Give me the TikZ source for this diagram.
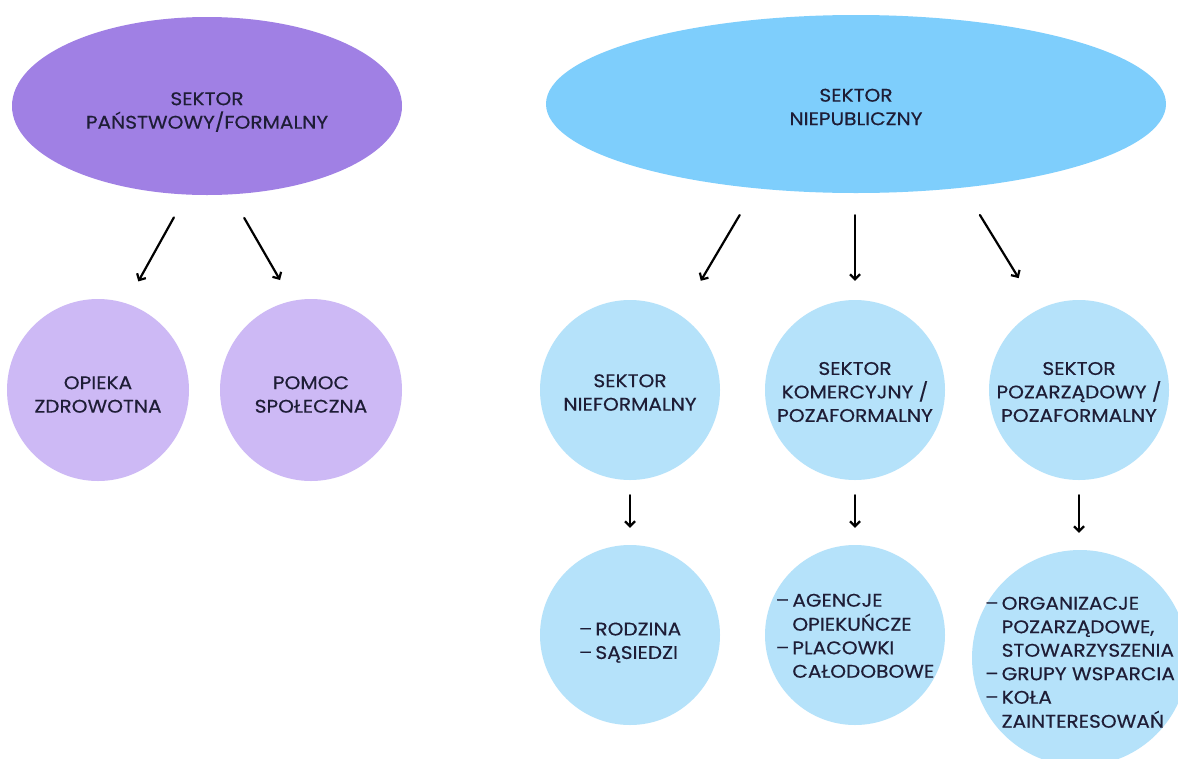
\documentclass[tikz,border=0pt]{standalone}
\usepackage{fontspec}
\setmainfont{Poppins}[FakeStretch=1.1, FakeBold=0.4]
\usetikzlibrary{shapes.geometric,arrows.meta}

\definecolor{violetMain}{HTML}{A080E4}
\definecolor{violetSoft}{HTML}{CDB9F5}
\definecolor{skyMain}{HTML}{7ECEFC}
\definecolor{skySoft}{HTML}{B5E2FA}
\definecolor{ink}{HTML}{1E1D36}

% dashed bullet list with hanging continuation lines
\newcommand{\dashlist}[1]{\begin{tabular}{@{}l@{\hspace{3pt}}l@{}}#1\end{tabular}}

\begin{document}
\begin{tikzpicture}[x=1pt,y=-1pt,
  lbl/.style={font=\fontsize{18.3}{23.5}\selectfont, text=ink, align=center, inner sep=0pt},
  sectorpurple/.style={ellipse, fill=violetMain, minimum width=390pt, minimum height=178pt, inner sep=0pt},
  sectorblue/.style={ellipse, fill=skyMain, minimum width=620pt, minimum height=178pt, inner sep=0pt},
  unitpurple/.style={circle, fill=violetSoft, minimum size=182pt, inner sep=0pt},
  unitblue/.style={circle, fill=skySoft, minimum size=180pt, inner sep=0pt},
  arr/.style={-{Straight Barb[length=5pt,width=10pt]}, line width=2.2pt, line cap=round, black}
]
\useasboundingbox[fill=white] (0,0) rectangle (1178,758);

% top level sectors (captions sit slightly below the shape centres)
\node[sectorpurple, label={[lbl, name=pf-t, yshift=-6pt]center:{SEKTOR\\PAŃSTWOWY/FORMALNY}}] (pf) at (207,106) {};
\node[sectorblue, label={[lbl, name=np-t, yshift=-3pt]center:{SEKTOR\\NIEPUBLICZNY}}] (np) at (856,104) {};

% public sector branches
\node[unitpurple, label={[lbl, name=oz-t, yshift=-4.5pt]center:{OPIEKA\\ZDROWOTNA}}] (oz) at (98,390) {};
\node[unitpurple, label={[lbl, name=ps-t, yshift=-4.5pt]center:{POMOC\\SPOŁECZNA}}] (ps) at (311,390) {};

% non-public sector branches
\node[unitblue, label={[lbl, name=nf-t, yshift=-2.5pt]center:{SEKTOR\\NIEFORMALNY}}] (nf) at (630,390) {};
\node[unitblue, label={[lbl, name=kom-t, yshift=-2pt]center:{SEKTOR\\KOMERCYJNY /\\POZAFORMALNY}}] (kom) at (855,390) {};
\node[unitblue, label={[lbl, name=pz-t, yshift=-2pt]center:{SEKTOR\\POZARZĄDOWY /\\POZAFORMALNY}}] (pz) at (1079,390) {};

% examples
\node[unitblue, label={[lbl, name=rodz-t, yshift=-7.5pt]center:{\dashlist{–&RODZINA\\–&SĄSIEDZI}}}] (rodz) at (630,635) {};
\node[unitblue, label={[lbl, name=ag-t, yshift=-2.5pt]center:{\dashlist{–&AGENCJE\\&OPIEKUŃCZE\\–&PLACOWKI\\&CAŁODOBOWE}}}] (ag) at (855,635) {};
\node[unitblue, minimum size=216pt, label={[lbl, name=org-t, yshift=-6pt]center:{\dashlist{–&ORGANIZACJE\\&POZARZĄDOWE,\\&STOWARZYSZENIA\\–&GRUPY WSPARCIA\\–&KOŁA\\&ZAINTERESOWAŃ}}}] (org) at (1080,658) {};

% connectors
\draw[arr, shorten <=26pt, shorten >=25pt] (pf.-103.3) -- (oz.72.8);
\draw[arr, shorten <=27pt, shorten >=24pt] (pf.-75.6) -- (ps.102.3);

\draw[arr, shorten <=31pt, shorten >=40pt] (np.-140.5) -- (nf.56.6);
\draw[arr, shorten <=22pt, shorten >=19pt] (np.south -| kom.north) -- (kom.north);
\draw[arr, shorten <=32pt, shorten >=37pt] (np.-38.5) -- (pz.117.9);

\draw[arr, shorten <=15pt, shorten >=17pt] (nf.south) -- (rodz.north);
\draw[arr, shorten <=15pt, shorten >=17pt] (kom.south) -- (ag.north);
\draw[arr, shorten <=15pt, shorten >=17pt] (pz.south) -- (pz.south |- org.north);
\end{tikzpicture}
\end{document}
